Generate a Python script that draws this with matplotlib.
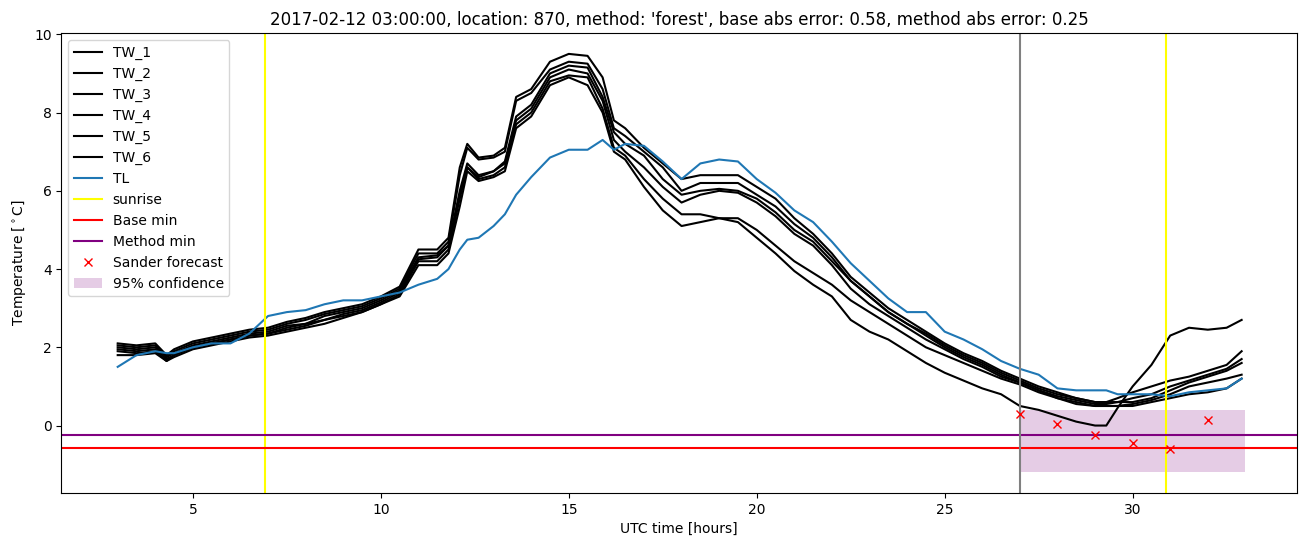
import matplotlib
matplotlib.use('Agg')
import matplotlib.pyplot as plt

# time of day in hours (UTC), shared by all temperature series
hours = [3.0, 3.5, 4.0, 4.3, 4.5, 5.0, 5.5, 6.0, 6.5, 7.0,
         7.5, 8.0, 8.5, 9.0, 9.5, 10.0, 10.5, 11.0, 11.5, 11.8,
         12.1, 12.3, 12.6, 13.0, 13.3, 13.6, 14.0, 14.5, 15.0, 15.5,
         15.9, 16.2, 16.5, 17.0, 17.5, 18.0, 18.5, 19.0, 19.5, 20.0,
         20.5, 21.0, 21.5, 22.0, 22.5, 23.0, 23.5, 24.0, 24.5, 25.0,
         25.5, 26.0, 26.5, 27.0, 27.5, 28.0, 28.5, 29.0, 29.3, 29.6,
         30.0, 30.5, 31.0, 31.5, 32.0, 32.5, 32.9]

tw_1 = [2.1, 2.05, 2.1, 1.8, 1.95, 2.15, 2.25, 2.35, 2.45, 2.5,
        2.65, 2.75, 2.9, 3.0, 3.1, 3.3, 3.55, 4.5, 4.5, 4.8,
        6.6, 7.2, 6.85, 6.9, 7.1, 8.4, 8.6, 9.3, 9.5, 9.45,
        8.9, 7.8, 7.6, 7.1, 6.7, 6.3, 6.4, 6.4, 6.4, 6.1,
        5.8, 5.3, 4.9, 4.4, 3.8, 3.4, 3.0, 2.7, 2.4, 2.1,
        1.85, 1.65, 1.4, 1.2, 1.0, 0.85, 0.7, 0.6, 0.6, 0.7,
        0.85, 1.0, 1.15, 1.25, 1.4, 1.55, 1.9]
tw_2 = [2.05, 2.0, 2.05, 1.75, 1.9, 2.1, 2.2, 2.3, 2.4, 2.45,
        2.6, 2.7, 2.85, 2.95, 3.05, 3.25, 3.5, 4.4, 4.4, 4.7,
        6.4, 7.1, 6.8, 6.85, 7.0, 8.3, 8.5, 9.1, 9.3, 9.25,
        8.6, 7.6, 7.4, 7.0, 6.6, 6.0, 6.2, 6.2, 6.2, 5.9,
        5.6, 5.15, 4.8, 4.3, 3.7, 3.3, 2.9, 2.6, 2.35, 2.05,
        1.8, 1.6, 1.35, 1.15, 0.95, 0.8, 0.7, 0.6, 0.6, 0.6,
        0.7, 0.8, 1.0, 1.15, 1.3, 1.45, 1.7]
tw_3 = [2.0, 1.95, 2.0, 1.75, 1.85, 2.05, 2.15, 2.25, 2.35, 2.4,
        2.55, 2.6, 2.8, 2.9, 3.0, 3.2, 3.45, 4.3, 4.35, 4.6,
        6.0, 6.7, 6.4, 6.5, 6.75, 7.9, 8.2, 9.0, 9.2, 9.15,
        8.4, 7.5, 7.2, 6.9, 6.3, 5.9, 6.0, 6.05, 6.0, 5.8,
        5.45, 5.0, 4.7, 4.2, 3.7, 3.3, 2.9, 2.6, 2.3, 2.0,
        1.75, 1.55, 1.3, 1.1, 0.9, 0.75, 0.65, 0.55, 0.55, 0.6,
        0.6, 0.7, 0.9, 1.1, 1.25, 1.4, 1.6]
tw_4 = [1.95, 1.9, 1.95, 1.7, 1.8, 2.0, 2.1, 2.2, 2.3, 2.35,
        2.5, 2.6, 2.7, 2.85, 2.95, 3.15, 3.4, 4.25, 4.3, 4.6,
        5.9, 6.6, 6.35, 6.5, 6.7, 7.8, 8.1, 8.9, 9.1, 9.0,
        8.3, 7.3, 7.0, 6.6, 6.1, 5.7, 5.9, 6.0, 5.95, 5.7,
        5.35, 4.9, 4.6, 4.1, 3.5, 3.1, 2.8, 2.5, 2.2, 1.95,
        1.7, 1.5, 1.25, 1.1, 0.9, 0.7, 0.6, 0.5, 0.5, 0.5,
        0.55, 0.65, 0.8, 1.0, 1.1, 1.2, 1.3]
tw_5 = [1.9, 1.85, 1.9, 1.65, 1.8, 2.0, 2.1, 2.2, 2.3, 2.35,
        2.45, 2.55, 2.7, 2.8, 2.9, 3.1, 3.35, 4.2, 4.2, 4.5,
        5.8, 6.6, 6.3, 6.4, 6.6, 7.7, 8.0, 8.8, 8.95, 8.9,
        8.1, 7.1, 6.9, 6.3, 5.8, 5.4, 5.4, 5.3, 5.3, 5.0,
        4.6, 4.2, 3.9, 3.6, 3.2, 2.9, 2.6, 2.3, 2.0, 1.8,
        1.6, 1.4, 1.2, 1.05, 0.85, 0.7, 0.55, 0.5, 0.5, 0.5,
        0.5, 0.6, 0.7, 0.8, 0.85, 0.95, 1.2]
tw_6 = [1.8, 1.8, 1.85, 1.65, 1.75, 1.95, 2.05, 2.15, 2.25, 2.3,
        2.4, 2.5, 2.6, 2.75, 2.9, 3.1, 3.3, 4.1, 4.1, 4.4,
        5.6, 6.5, 6.25, 6.35, 6.5, 7.6, 7.9, 8.7, 8.9, 8.7,
        8.0, 7.0, 6.8, 6.1, 5.5, 5.1, 5.2, 5.3, 5.2, 4.8,
        4.4, 3.95, 3.6, 3.3, 2.7, 2.4, 2.2, 1.9, 1.6, 1.35,
        1.15, 0.95, 0.8, 0.5, 0.4, 0.25, 0.1, 0.0, 0.0, 0.45,
        1.0, 1.55, 2.3, 2.5, 2.45, 2.5, 2.7]
tl = [1.5, 1.8, 1.9, 1.85, 1.85, 2.0, 2.1, 2.1, 2.35, 2.8,
      2.9, 2.95, 3.1, 3.2, 3.2, 3.3, 3.4, 3.6, 3.75, 4.0,
      4.5, 4.75, 4.8, 5.1, 5.4, 5.9, 6.35, 6.85, 7.05, 7.05,
      7.3, 7.05, 7.2, 7.15, 6.75, 6.3, 6.7, 6.8, 6.75, 6.3,
      5.95, 5.5, 5.2, 4.7, 4.15, 3.7, 3.25, 2.9, 2.9, 2.4,
      2.2, 1.95, 1.65, 1.45, 1.3, 0.95, 0.9, 0.9, 0.9, 0.8,
      0.8, 0.8, 0.75, 0.85, 0.9, 0.95, 1.2]

tw_series = [tw_1, tw_2, tw_3, tw_4, tw_5, tw_6]
tw_labels = ['TW_1', 'TW_2', 'TW_3', 'TW_4', 'TW_5', 'TW_6']

sunrise_hours = [6.92, 30.9]
forecast_start = 27
base_min = -0.58
method_min = -0.25

forecast_hours = [27, 28, 29, 30, 31, 32]
forecast_temp = [0.3, 0.04, -0.24, -0.44, -0.59, 0.15]

conf_hours = [27, 33]
conf_low = [-1.19, -1.19]
conf_high = [0.41, 0.41]

title = ("2017-02-12 03:00:00, location: 870, method: 'forest', "
         "base abs error: 0.58, method abs error: 0.25")

fig = plt.figure(figsize=(13.1, 5.47), dpi=100)
ax = fig.add_axes([0.0468, 0.0987, 0.9432, 0.841])

for vals, lab in zip(tw_series, tw_labels):
    ax.plot(hours, vals, color='black', label=lab)
ax.plot(hours, tl, color='tab:blue', label='TL')

for i, h in enumerate(sunrise_hours):
    ax.axvline(h, color='yellow', label='sunrise' if i == 0 else None)
ax.axhline(base_min, color='red', label='Base min')
ax.axhline(method_min, color='purple', label='Method min')
ax.axvline(forecast_start, color='gray')

ax.plot(forecast_hours, forecast_temp, 'x', color='red', linestyle='',
        label='Sander forecast')
ax.fill_between(conf_hours, conf_low, conf_high, color='purple', alpha=0.2,
                linewidth=0, label='95% confidence')

ax.set_xlim(1.5, 34.37)
ax.set_xlabel('UTC time [hours]')
ax.set_ylabel(r'Temperature [$^\circ$C]')
ax.set_title(title)
ax.legend(loc='upper left')

fig.savefig('out.png', dpi=100)
